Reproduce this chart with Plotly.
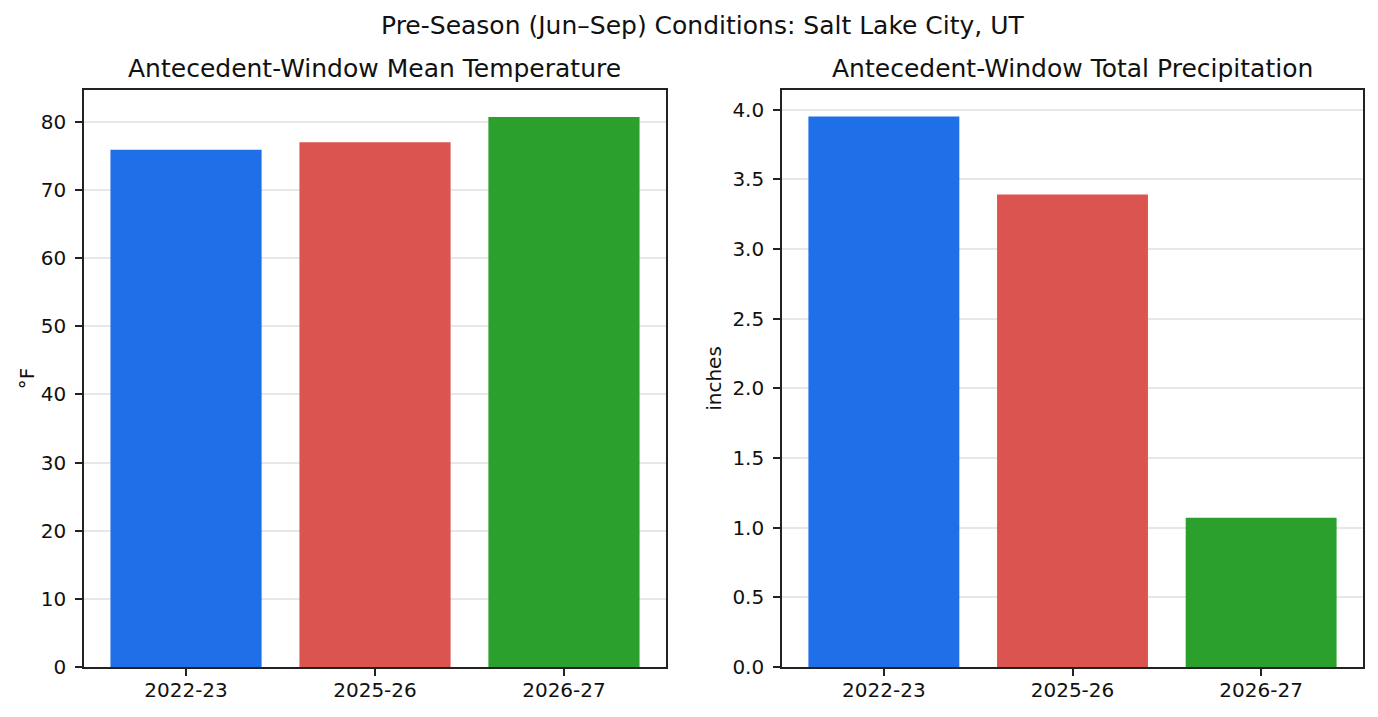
import plotly.graph_objects as go
from plotly.subplots import make_subplots

# seasons and pre-season values
seasons = ['2022-23', '2025-26', '2026-27']
mean_temp_f = [75.9, 77.0, 80.7]
total_precip_in = [3.95, 3.39, 1.07]
bar_colors = ['#1f6fe9', '#db5450', '#2ca02c']

W, H = 1378, 717
FONT = 'DejaVu Sans'


def px_x(p):
    return p / W


def px_y(p):
    return 1 - p / H


fig = make_subplots(rows=1, cols=2)

fig.add_trace(go.Bar(x=seasons, y=mean_temp_f, marker_color=bar_colors,
                     marker_line_width=0, width=0.8), row=1, col=1)
fig.add_trace(go.Bar(x=seasons, y=total_precip_in, marker_color=bar_colors,
                     marker_line_width=0, width=0.8), row=1, col=2)

axis_common = dict(showline=True, linecolor='#222222', linewidth=1.6, mirror=True,
                   ticks='outside', ticklen=7, tickwidth=1.6, tickcolor='#222222',
                   tickfont=dict(family=FONT, size=20, color='#111111'),
                   automargin=False, zeroline=False)

fig.update_xaxes(**axis_common, showgrid=False, range=[-0.54, 2.54], ticklabelstandoff=-3)
fig.update_yaxes(**axis_common, showgrid=True, gridcolor='rgba(176,176,176,0.3)',
                 gridwidth=1.6, layer='above traces', ticklabelstandoff=5)

fig.update_xaxes(domain=[px_x(84), px_x(666)], row=1, col=1)
fig.update_xaxes(domain=[px_x(782), px_x(1363)], row=1, col=2)
fig.update_yaxes(domain=[px_y(667), px_y(90)])

fig.update_yaxes(range=[0, 84.65], tickmode='array', tickvals=list(range(0, 90, 10)),
                 title=dict(text='°F', standoff=1, font=dict(family=FONT, size=20, color='#111111')),
                 row=1, col=1)
fig.update_yaxes(range=[0, 4.14], tickmode='array', tickvals=[i * 0.5 for i in range(9)],
                 tickformat='.1f',
                 title=dict(text='inches', standoff=5, font=dict(family=FONT, size=20, color='#111111')),
                 row=1, col=2)

fig.add_annotation(text='Pre-Season (Jun–Sep) Conditions: Salt Lake City, UT',
                   x=px_x(703), y=px_y(25), xref='paper', yref='paper',
                   showarrow=False, xanchor='center', yanchor='middle',
                   font=dict(family=FONT, size=25, color='#111111'))
fig.add_annotation(text='Antecedent-Window Mean Temperature',
                   x=px_x(375), y=px_y(69), xref='paper', yref='paper',
                   showarrow=False, xanchor='center', yanchor='middle',
                   font=dict(family=FONT, size=25, color='#111111'))
fig.add_annotation(text='Antecedent-Window Total Precipitation',
                   x=px_x(1072.5), y=px_y(69), xref='paper', yref='paper',
                   showarrow=False, xanchor='center', yanchor='middle',
                   font=dict(family=FONT, size=25, color='#111111'))

fig.update_layout(width=W, height=H, margin=dict(l=0, r=0, t=0, b=0),
                  paper_bgcolor='white', plot_bgcolor='white',
                  showlegend=False, bargap=0.2)

# drop the browser's default body margin so the figure sits at the page corner
fig.write_html('out.html', config={'displayModeBar': False},
               post_script="document.body.style.margin='0';")
